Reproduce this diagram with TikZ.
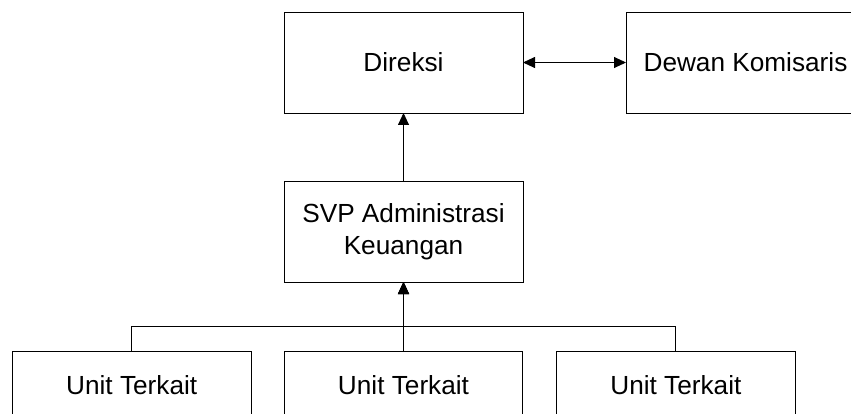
\documentclass[tikz,border=0pt]{standalone}
\usepackage{fontspec}
\setmainfont{Liberation Sans}
\usetikzlibrary{arrows.meta}
\tikzset{
  box/.style={draw=black, line width=0.9pt, inner sep=0pt, outer sep=0pt,
    minimum width=239pt, minimum height=101pt, align=center,
    font=\fontsize{26.2}{31.7}\selectfont},
  unitbox/.style={box, minimum width=238.5pt, minimum height=66pt},
  conn/.style={draw=black, line width=0.9pt},
  arr/.style={conn, -{Triangle[length=12pt,width=11pt]}},
  darr/.style={conn, {Triangle[length=12pt,width=11pt]}-{Triangle[length=12pt,width=11pt]}}
}
\begin{document}
\begin{tikzpicture}[x=1pt,y=-1pt]
\useasboundingbox (0,0) rectangle (851,414);
\node[box] (dir) at (403.5,62.5) {Direksi};
\node[box] (dew) at (745.5,62.5) {Dewan Komisaris};
\node[box] (svp) at (403.5,231.5) {SVP Administrasi\\Keuangan};
\node[unitbox] (u1) at (131.7,384.7) {Unit Terkait};
\node[unitbox] (u2) at (403.5,384.7) {Unit Terkait};
\node[unitbox] (u3) at (675.9,384.7) {Unit Terkait};
\coordinate (bus) at (403.5,326);
\draw[darr] (dir.east) -- (dew.west);
\draw[arr] (svp.north) -- (dir.south);
\draw[arr] (u1.north) |- (bus) -- (svp.south);
\draw[arr] (u3.north) |- (bus) -- (svp.south);
\draw[arr] (u2.north) -- (svp.south);
\end{tikzpicture}
\end{document}
